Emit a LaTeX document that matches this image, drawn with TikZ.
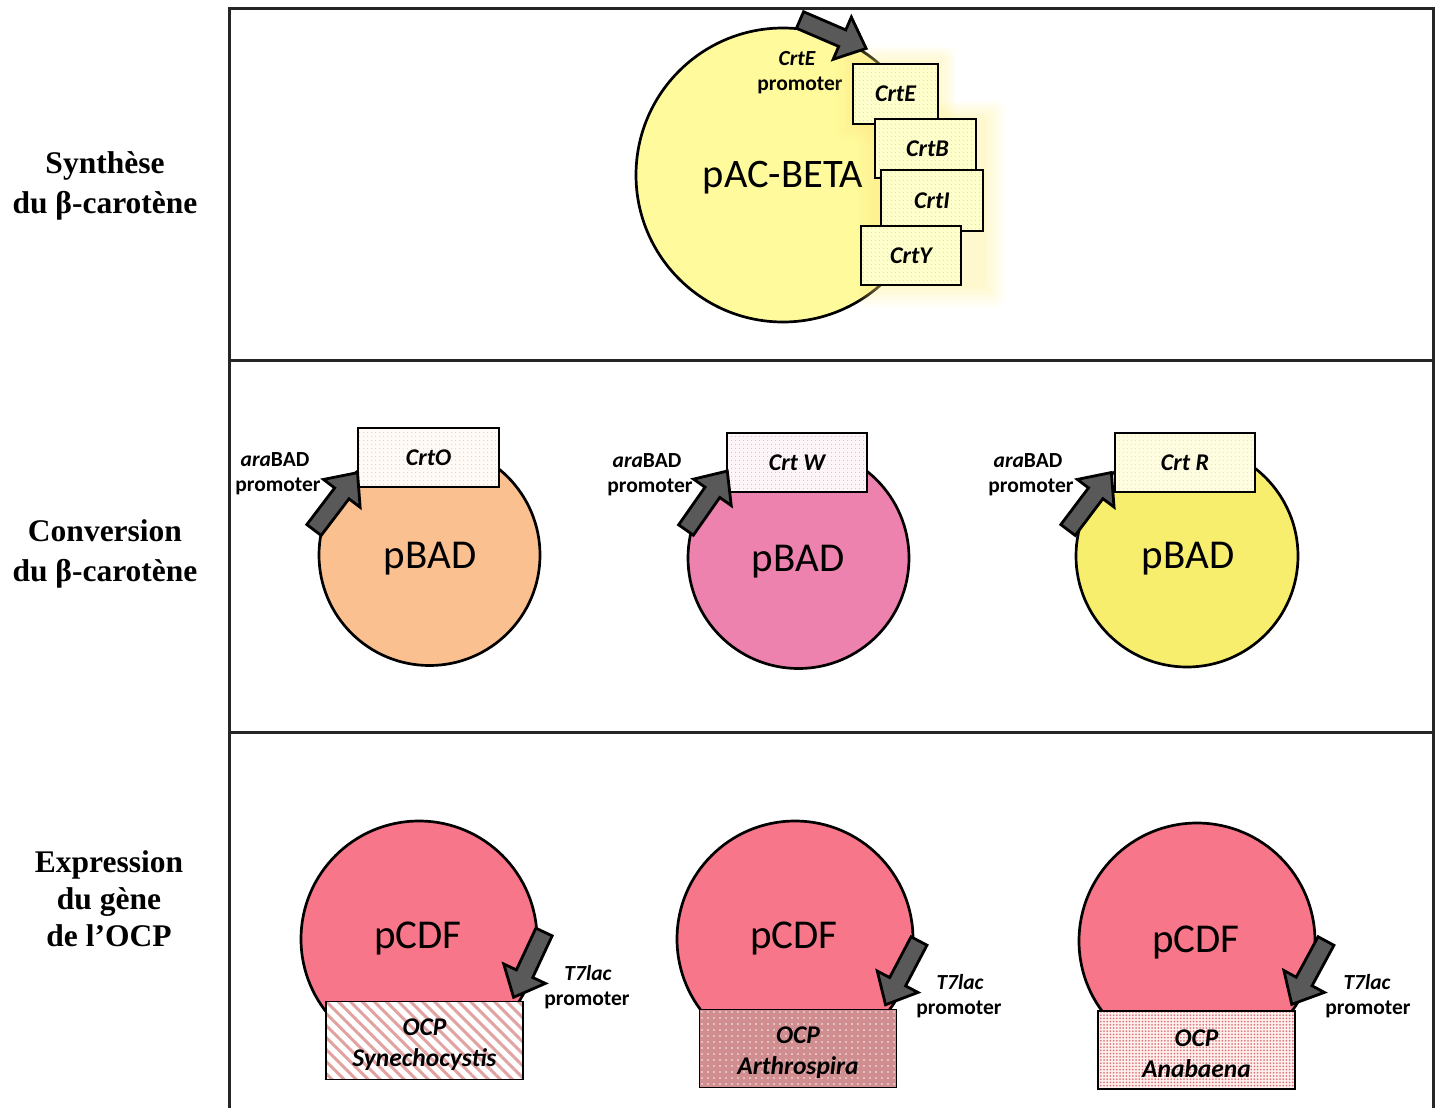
\documentclass[tikz,border=0pt]{standalone}
\usepackage{fontspec}
\setmainfont{Carlito}
\newfontfamily\tnr{Liberation Serif}
\usetikzlibrary{patterns.meta}
\definecolor{topyel}{HTML}{FFFB9C}
\definecolor{boxyel}{HTML}{FFFFCC}
\definecolor{dotyel}{HTML}{E2D650}
\definecolor{peach}{HTML}{FAC090}
\definecolor{pinkc}{HTML}{EC82AD}
\definecolor{yelc}{HTML}{F7EE6E}
\definecolor{redc}{HTML}{F87689}
\definecolor{arrg}{HTML}{595959}
\definecolor{stripe}{HTML}{E2A2A2}
\definecolor{rose}{HTML}{D08E90}
\definecolor{reddot}{HTML}{E07A7A}
\begin{document}
\begin{tikzpicture}[x=1pt,y=-1pt,
  frame/.style={line width=3pt, black!85},
  plasmid/.style={circle, draw=black, line width=2.7pt, inner sep=0pt},
  gene/.style={draw=black, line width=1.8pt, inner sep=0pt, font=\fontsize{24}{28}\selectfont\bfseries\itshape},
  ocp/.style={draw=black, line width=1.8pt, inner sep=0pt, minimum width=197pt, minimum height=78pt},
  ocptxt/.style={inner sep=0pt, align=center, yshift=-4pt, font=\fontsize{25.5}{31}\selectfont\bfseries\itshape},
  plname/.style={inner sep=0pt, font=\fontsize{41}{46}\selectfont},
  small/.style={inner sep=0pt, font=\fontsize{21.5}{25}\selectfont\bfseries},
  leftlab/.style={inner sep=0pt, align=center, font=\tnr\fontsize{31.5}{40}\selectfont\bfseries},
  arrsty/.style={fill=arrg, draw=black, line width=2.8pt, line join=miter},
  pics/parrow/.style={code={
    \draw[arrsty] (0,-9) -- (46,-9) -- (46,-23) -- (72,0) -- (46,23) -- (46,9) -- (0,9) -- cycle;
  }}
]
\useasboundingbox (0,0) rectangle (1440,1108);

% frame
\draw[frame] (229,1115) -- (229,9) -- (1433,9) -- (1433,1115);
\draw[frame] (229,360) -- (1433,360);
\draw[frame] (229,732) -- (1433,732);

% left labels
\node[leftlab] (lab1) at (105,186) {Synthèse\\du β-carotène};
\node[leftlab] (lab2) at (105,554) {Conversion\\du β-carotène};
\node[leftlab, font=\tnr\fontsize{31.5}{37}\selectfont\bfseries] (lab3) at (109,899) {Expression\\du gène\\de l’OCP};

% ---------------- top panel
\node[plasmid, fill=topyel, minimum size=294pt] (pac) at (783,175) {};
\node[plname, font=\fontsize{40.5}{46}\selectfont] (pactxt) at (783,178) {pAC-BETA};
\node[small] (crtel) at (797,59) {\itshape CrtE};
\node[small] (crtep) at (800,85) {promoter};
% glow
\foreach \i in {1,...,10}{
  \fill[yellow!80!orange!45, opacity=0.05, rounded corners=\i pt]
    ({853-1.8*\i},{64-1.8*\i}) rectangle ({938+1.8*\i},{124+1.8*\i});
  \fill[yellow!80!orange!45, opacity=0.05, rounded corners=\i pt]
    ({875-1.8*\i},{119-1.8*\i}) rectangle ({983+2.2*\i},{285+2.2*\i});
}
\tikzset{topbox/.style={gene, preaction={fill=boxyel}, preaction={pattern={Dots[radius=0.6pt,distance=4pt]}, pattern color=dotyel}}}
\node[topbox, minimum width=85pt, minimum height=60pt] (gE) at (895.5,94) {\raisebox{-2pt}{CrtE}};
\node[topbox, minimum width=101pt, minimum height=59pt] (gB) at (925.5,148.5) {\hspace*{4pt}\raisebox{-2pt}{CrtB}};
\node[topbox, minimum width=102pt, minimum height=61pt] (gI) at (932,200.5) {\raisebox{-2pt}{CrtI}};
\node[topbox, minimum width=100pt, minimum height=59pt] (gY) at (911,255.5) {\raisebox{-2pt}{CrtY}};
\pic[rotate=-23.3] (aTop) at (800,20) {parrow};

% ---------------- middle panel
\node[plasmid, fill=peach, minimum size=221pt] (b1) at (429.5,555) {};
\node[plasmid, fill=pinkc, minimum size=221pt] (b2) at (798.5,558) {};
\node[plasmid, fill=yelc, minimum size=222pt] (b3) at (1187,556) {};
\node[plname] (b1t) at (430,559) {pBAD};
\node[plname] (b2t) at (798,562) {pBAD};
\node[plname] (b3t) at (1188,559) {pBAD};
\node[gene, minimum width=141pt, minimum height=59pt, preaction={fill=orange!4}, preaction={pattern={Dots[radius=0.55pt,distance=4pt]}, pattern color=peach!80!orange}] (gO) at (428.5,457.5) {\raisebox{-2pt}{CrtO}};
\node[gene, minimum width=140pt, minimum height=59pt, preaction={fill=pinkc!8}, preaction={pattern={Dots[radius=0.55pt,distance=4pt]}, pattern color=pinkc}] (gW) at (797,462.5) {\raisebox{-2pt}{Crt W}};
\node[gene, minimum width=140pt, minimum height=59pt, preaction={fill=yellow!12}, preaction={pattern={Dots[radius=0.55pt,distance=4pt]}, pattern color=yelc!80!orange}] (gR) at (1185,462.5) {\raisebox{-2pt}{Crt R}};
\node[small] (ar1) at (275,460) {\itshape ara\upshape BAD};
\node[small] (pr1) at (278,486) {promoter};
\node[small] (ar2) at (647,461) {\itshape ara\upshape BAD};
\node[small] (pr2) at (650,487) {promoter};
\node[small] (ar3) at (1028,461) {\itshape ara\upshape BAD};
\node[small] (pr3) at (1031,487) {promoter};
\pic[rotate=52.8] (aM1) at (314,530) {parrow};
\pic[rotate=55] (aM2) at (686,530) {parrow};
\pic[rotate=53] (aM3) at (1068,530) {parrow};

% ---------------- bottom panel
\node[plasmid, fill=redc, minimum size=236pt] (c1) at (419,939) {};
\node[plasmid, fill=redc, minimum size=236pt] (c2) at (795,939) {};
\node[plasmid, fill=redc, minimum size=236pt] (c3) at (1197,941) {};
\node[plname] (c1t) at (418,938) {pCDF};
\node[plname] (c2t) at (794,938) {pCDF};
\node[plname] (c3t) at (1196,942) {pCDF};
\node[ocp, preaction={fill=white}, preaction={pattern={Lines[angle=-45,distance=8.5pt,line width=3pt]}, pattern color=stripe}] (o1) at (424.5,1040.5) {};
\node[ocp, preaction={fill=rose}, preaction={pattern={Dots[radius=0.9pt,distance=6pt]}, pattern color=white!90!rose}] (o2) at (798,1048.5) {};
\node[ocp, preaction={fill=red!6}, preaction={pattern={Dots[radius=1pt,distance=3.2pt]}, pattern color=reddot}] (o3) at (1196.5,1050) {};
\node[ocptxt] (o1t) at (o1.center) {OCP\\Synechocystis};
\node[ocptxt] (o2t) at (o2.center) {OCP\\Arthrospira};
\node[ocptxt] (o3t) at (o3.center) {OCP\\Anabaena};
\node[small] (t1) at (588,973) {\itshape T7lac};
\node[small] (tp1) at (587,1000) {promoter};
\node[small] (t2) at (960,982) {\itshape T7lac};
\node[small] (tp2) at (959,1009) {promoter};
\node[small] (t3) at (1367,982) {\itshape T7lac};
\node[small] (tp3) at (1368,1009) {promoter};
\pic[rotate=-115] (aB1) at (544,932) {parrow};
\pic[rotate=-117.7] (aB2) at (919,941) {parrow};
\pic[rotate=-118.4] (aB3) at (1326,941) {parrow};
\end{tikzpicture}
\end{document}
